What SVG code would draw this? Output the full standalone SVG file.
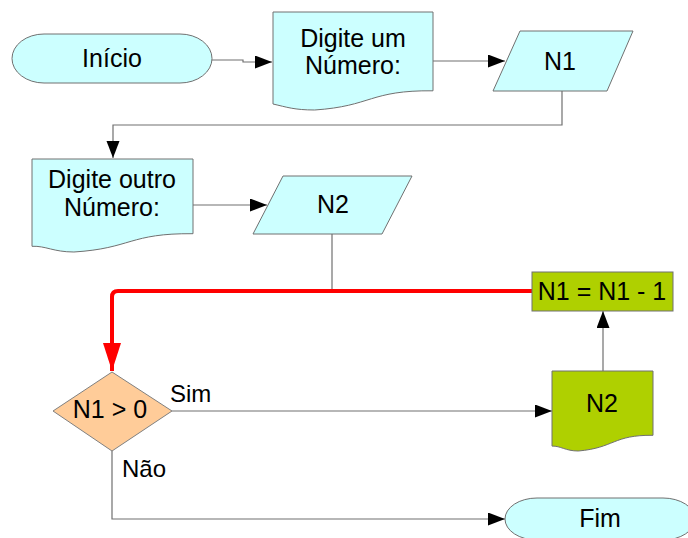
<svg xmlns="http://www.w3.org/2000/svg" width="688" height="538" viewBox="0 0 688 538">
  <style>
    .t { font-family: "Liberation Sans", Arial, sans-serif; font-size: 25px; fill: #000; text-anchor: middle; }
    .lbl { font-family: "Liberation Sans", Arial, sans-serif; font-size: 24px; fill: #000; }
    .cyan { fill: #ccffff; stroke: #707070; stroke-width: 1; }
    .green { fill: #afd000; stroke: #707070; stroke-width: 1; }
    .orange { fill: #ffcc99; stroke: #808080; stroke-width: 1; }
    .conn { fill: none; stroke: #707070; stroke-width: 1.2; }
    .red { fill: none; stroke: #ff0000; stroke-width: 4; }
  </style>
  <defs>
    <marker id="arr" markerUnits="userSpaceOnUse" markerWidth="18" markerHeight="14" refX="17" refY="6.5" orient="auto">
      <path d="M0,0 L17,6.5 L0,13 Z" fill="#000"/>
    </marker>
    <marker id="arrRed" markerUnits="userSpaceOnUse" markerWidth="30" markerHeight="20" refX="28" refY="9" orient="auto">
      <path d="M0,0 L28,9 L0,18 Z" fill="#ff0000"/>
    </marker>
  </defs>
  <rect width="688" height="538" fill="#ffffff"/>

  <g id="connectors">
    <path class="conn" d="M212,60 H243 V62 H272" marker-end="url(#arr)"/>
    <path class="conn" d="M433,61 H505" marker-end="url(#arr)"/>
    <path class="conn" d="M562,91 V125 H113 V158" marker-end="url(#arr)"/>
    <path class="conn" d="M193,205 H267" marker-end="url(#arr)"/>
    <path class="conn" d="M332,234 V291"/>
    <path class="red" d="M532,291 H118 Q112,291 112,297 V371" marker-end="url(#arrRed)"/>
    <path class="conn" d="M603,371 V311" marker-end="url(#arr)"/>
    <path class="conn" d="M172,411 H552" marker-end="url(#arr)"/>
    <path class="conn" d="M112,451 V519 H505" marker-end="url(#arr)"/>
    <text class="lbl" x="170" y="402">Sim</text>
    <text class="lbl" x="122" y="477">Não</text>
  </g>

  <g id="inicio">
    <rect class="cyan" x="12" y="34" width="200" height="49" rx="32" ry="24.5"/>
    <text class="t" x="112" y="67">Início</text>
  </g>

  <g id="digite-um">
    <path class="cyan" d="M273,12 H433 V90.8 C369.7,90.1 371.8,106.2 314.6,110 C294.2,110 286.7,107.1 273,104 Z"/>
    <text class="t" x="353" y="47">Digite um</text>
    <text class="t" x="353" y="74">Número:</text>
  </g>

  <g id="n1">
    <path class="cyan" d="M520,31 H633 L607,91 H493 Z"/>
    <text class="t" x="560" y="70">N1</text>
  </g>

  <g id="digite-outro">
    <path class="cyan" d="M32,159 H193 V233.7 C129.3,233.1 131.4,248.4 73.9,252 C53.3,252 45.8,245.7 32,246.3 Z"/>
    <text class="t" x="112" y="188">Digite outro</text>
    <text class="t" x="112" y="216">Número:</text>
  </g>

  <g id="n2-input">
    <path class="cyan" d="M283,176 H412 L382,234 H253 Z"/>
    <text class="t" x="333" y="213">N2</text>
  </g>

  <g id="decrement">
    <rect class="green" x="532" y="272" width="141" height="39"/>
    <text class="t" x="602" y="300">N1 = N1 - 1</text>
  </g>

  <g id="n2-output">
    <path class="green" d="M552,371 H653 V435.3 C613,434.8 614.4,447.9 578.3,451 C565.4,451 560.7,445.8 552,446.1 Z"/>
    <text class="t" x="602" y="412">N2</text>
  </g>

  <g id="decision">
    <path class="orange" d="M112,372 L172,411 L112,451 L53,411 Z"/>
    <text class="t" x="110" y="418">N1 &gt; 0</text>
  </g>

  <g id="fim">
    <rect class="cyan" x="505" y="498" width="190" height="42" rx="32" ry="21"/>
    <text class="t" x="600" y="527">Fim</text>
  </g>
</svg>
